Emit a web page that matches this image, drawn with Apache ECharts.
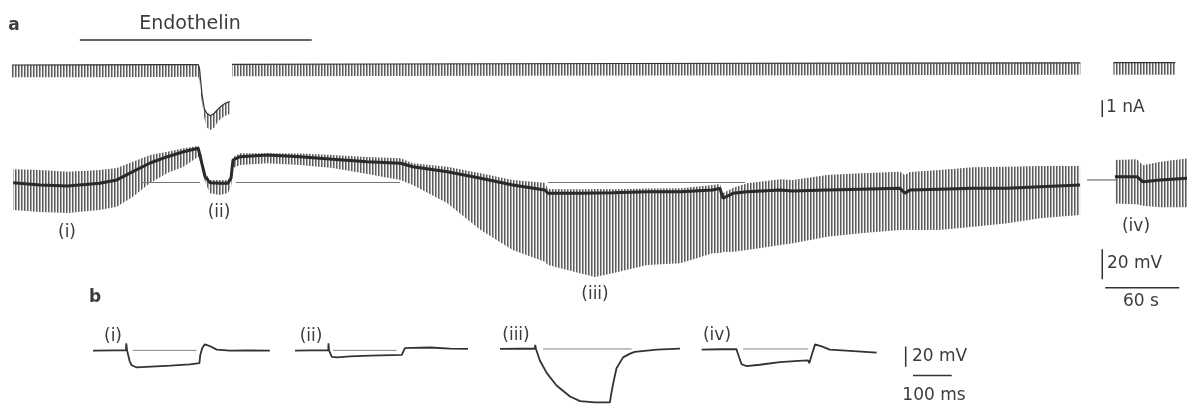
<!DOCTYPE html>
<html>
<head>
<meta charset="utf-8">
<script src="https://cdn.jsdelivr.net/npm/echarts@6/dist/echarts.min.js"></script>
<style>
  html, body { margin: 0; padding: 0; background: #fff; }
  #chart { width: 1187px; height: 409px; }
</style>
</head>
<body>
<div id="chart"></div>
<script>
// ---- panel a: injected current (nA), time in s; three pieces split by pen gaps
const curTime1 = [0, 60, 120, 151, 152, 154, 156, 158, 161, 164, 167, 170, 173, 176.5];
const curHold1 = [-0.06, -0.05, -0.04, -0.03, -0.25, -1.8, -2.7, -2.95, -3.1, -2.95, -2.7, -2.5, -2.35, -2.25];
const curPulse1 = [-0.8, -0.79, -0.78, -0.77, -1.0, -2.3, -3.25, -3.8, -3.95, -3.8, -3.45, -3.25, -3.1, -3.0];
const curTime2 = [178.4, 300, 500, 700, 866.2];
const curHold2 = [-0.02, 0, 0.03, 0.05, 0.07];
const curPulse2 = [-0.74, -0.72, -0.69, -0.67, -0.65];
const curTime3 = [893, 943.2];
const curHold3 = [0.08, 0.08];
const curPulse3 = [-0.64, -0.64];

// ---- panel a: membrane potential (mV, relative to the reference level)
const voltTime1 = [1, 23, 45, 71, 85, 98, 112, 126, 139, 151, 152.4, 156.5, 160.5, 168.7, 175.1, 177.6, 179.2,
  185, 207, 233.5, 260, 288, 315, 325, 353, 380, 406, 432, 434.6, 460.5, 472.7, 487, 515, 542, 568, 574,
  576.5, 584.6, 596, 623, 633, 661, 688, 720, 724, 728, 752, 779, 807, 833.5, 866];
const voltLevel1 = [-0.1, -1.7, -2.3, -0.5, 1.7, 7.2, 13, 17.2, 20.5, 22.8, 21.7, 3.9, -0.1, -0.5, -0.5, 3, 15,
  17.2, 18.3, 17.2, 15.5, 13.9, 12.8, 10.5, 7.2, 2.8, -1.7, -5, -7.2, -7.2, -7, -6.8, -6.1, -6.1, -5, -3.9,
  -10.5, -7.2, -6.1, -5, -5.7, -5, -4.5, -3.9, -7.2, -5, -4.5, -3.9, -3.9, -2.8, -1.7];
const voltPulseTop1 = [8.8, 8.3, 7.2, 8.3, 9.7, 13.9, 18.3, 20.5, 22.8, 24.3, 23, 7, 1.7, 1.7, 1.7, 4.5, 17,
  19.5, 19.5, 19.3, 18.3, 17, 16.1, 12.8, 10.5, 6.1, 1.7, -0.1, -4.3, -4.5, -4.3, -4.5, -4, -3.9, -1.7, -1,
  -7, -3.7, -0.5, 2.1, 1.7, 5, 6.1, 7.2, 5, 7, 8.3, 10.1, 10.5, 11, 11];
const voltPulseBottom1 = [-18.3, -19.7, -20.3, -18.3, -16.1, -9.5, -0.3, 6.3, 10.5, 17.2, 16.3, 0.3, -7.2, -8.3, -7, -3, 9.7,
  11.7, 12.8, 11.7, 9.7, 5.7, 1.7, -1.7, -13.9, -31.7, -45, -52.8, -55, -60.5, -63, -60.5, -55, -53.9, -47.2, -47,
  -46.3, -46.1, -45, -41.7, -40.5, -36.1, -33.9, -31.7, -31.7, -31.7, -31.7, -29.5, -27.2, -23.9, -21.7];
const voltTime2 = [894.3, 912, 917, 931, 953];
const voltLevel2 = [3.9, 3.9, 0.5, 1.7, 2.8];
const voltPulseTop2 = [15, 15.5, 11.5, 13.9, 16.1];
const voltPulseBottom2 = [-14, -14.5, -15.5, -16.5, -16.5];
const gapTime = [871.6, 896];
const gapLevel = [1.7, 1.7];
const refFrom = [104.6, 181.6, 434.6];
const refTo = [152.4, 314.6, 594.3];
const endothelinOn = [55, 243];

// ---- panel b: single responses (ms, mV)
const bTimeI = [0, 60, 85, 86, 88, 95, 100, 113, 150, 200, 250, 275, 277, 282, 289, 300, 320, 354, 400, 457];
const bVoltI = [-0.2, 0, 0, 6.9, 0, -11, -14.6, -16.8, -16, -15, -13.8, -12.6, -5, 2, 6, 4.5, 0.7, -0.2, 0, -0.2];
const bTimeII = [0, 40, 86, 86.5, 88, 95, 110, 142, 194, 276, 280, 284, 300, 349, 400, 447];
const bVoltII = [-0.2, 0, 0, 6.9, 0, -6.3, -6.8, -6, -5.1, -4.4, -1, 2.3, 2.5, 2.8, 1.8, 1.4];
const bTimeIII = [0, 50, 90, 91, 93, 103, 121, 146, 181, 207, 245, 284, 287, 293, 301, 318, 336, 348, 405, 465];
const bVoltIII = [0, 0.2, 0.2, 4, 0, -11.3, -23.7, -35.9, -46.7, -51.3, -52.5, -52.5, -45, -32.9, -19, -8.3, -4.6, -2.8, -0.6, 0.3];
const bTimeIV = [0, 50, 90, 92, 103, 116, 150, 202, 250, 275, 278, 285, 293, 310, 331, 383, 452];
const bVoltIV = [-0.6, -0.3, -0.3, -3, -15, -16.9, -15.5, -12.9, -11.8, -11.3, -14, -5, 4.5, 2.5, -0.6, -1.8, -3.7];
const bRefFrom = [103, 98, 111, 107];
const bRefTo = [268, 263, 340, 275];

// ---- layout (pixels)
const W = 1187;
const A_LEFT = 12, A_TOP = 0, A_HEIGHT = 320, A_PX_PER_S = 74 / 60;
const NA_ZERO_Y = 64, PX_PER_NA = 16.7;
const MV_ZERO_Y = 182.5, PX_PER_MV = 1.5;
const B_TOP = 318, B_HEIGHT = 97, B_SPAN_MS = 470, B_PX_PER_MS = 0.387, B_PX_PER_MV = 1.085;
const bLeft = [93, 295, 500, 701.7, 880];
const bZeroY = [352.5, 352.5, 351, 351, 370];

const INK = '#333';
const FONT = '"DejaVu Sans", sans-serif';

// 3px repeating column: one pen stroke per pulse
function stripes(cols) {
  const c = document.createElement('canvas');
  c.width = cols.length;
  c.height = 4;
  const ctx = c.getContext('2d');
  cols.forEach((col, i) => {
    ctx.fillStyle = col;
    ctx.fillRect(i, 0, 1, 4);
  });
  return { image: c, repeat: 'repeat' };
}
const tickFill = stripes(['#5c5c5c', '#a4a4a4', '#f6f6f6']);

const grid = [{ left: A_LEFT, top: A_TOP, width: W - A_LEFT, height: A_HEIGHT }];
const xAxis = [{ gridIndex: 0, type: 'value', show: false, min: 0, max: (W - A_LEFT) / A_PX_PER_S }];
const yAxis = [
  { gridIndex: 0, type: 'value', show: false, max: NA_ZERO_Y / PX_PER_NA, min: -(A_HEIGHT - NA_ZERO_Y) / PX_PER_NA },
  { gridIndex: 0, type: 'value', show: false, max: MV_ZERO_Y / PX_PER_MV, min: -(A_HEIGHT - MV_ZERO_Y) / PX_PER_MV },
];
bLeft.forEach((left, k) => {
  grid.push({ left, top: B_TOP, width: B_SPAN_MS * B_PX_PER_MS, height: B_HEIGHT });
  xAxis.push({ gridIndex: k + 1, type: 'value', show: false, min: 0, max: B_SPAN_MS });
  yAxis.push({
    gridIndex: k + 1, type: 'value', show: false,
    max: (bZeroY[k] - B_TOP) / B_PX_PER_MV,
    min: -(B_TOP + B_HEIGHT - bZeroY[k]) / B_PX_PER_MV,
  });
});

const series = [];
function trace(xi, yi, xs, ys, width, color) {
  series.push({
    type: 'line', xAxisIndex: xi, yAxisIndex: yi, silent: true, symbol: 'none',
    data: xs.map((x, i) => [x, ys[i]]),
    lineStyle: { width, color },
  });
}
// pulse envelope filled with vertical stripes (the individual pulses)
function band(xi, yi, xs, hi, lo) {
  series.push({
    type: 'custom', xAxisIndex: xi, yAxisIndex: yi, silent: true,
    data: xs.map((x, i) => [x, hi[i], lo[i]]),
    renderItem(params, api) {
      if (params.dataIndex !== 0) return null;
      const up = xs.map((x, i) => api.coord([x, hi[i]]));
      const dn = xs.map((x, i) => api.coord([x, lo[i]])).reverse();
      return { type: 'polygon', shape: { points: up.concat(dn) }, style: { fill: tickFill } };
    },
  });
}

// current trace
band(0, 0, curTime1, curHold1, curPulse1);
band(0, 0, curTime2, curHold2, curPulse2);
band(0, 0, curTime3, curHold3, curPulse3);
trace(0, 0, curTime1, curHold1, 1.2, INK);
trace(0, 0, curTime2, curHold2, 1.2, INK);
trace(0, 0, curTime3, curHold3, 1.2, INK);

// voltage trace
band(0, 1, voltTime1, voltPulseTop1, voltPulseBottom1);
band(0, 1, voltTime2, voltPulseTop2, voltPulseBottom2);
refFrom.forEach((t, i) => trace(0, 1, [t, refTo[i]], [0, 0], 1, '#777'));
trace(0, 1, gapTime, gapLevel, 1, '#555');
trace(0, 1, voltTime1, voltLevel1, 3, '#2a2a2a');
trace(0, 1, voltTime2, voltLevel2, 3, '#2a2a2a');

// endothelin application bar
trace(0, 1, endothelinOn, [95, 95], 1.5, INK);

// scale bars, panel a
trace(0, 0, [884, 884], [-3.17, -2.17], 1.5, INK);
trace(0, 1, [884, 884], [-64.5, -44.5], 1.5, INK);
trace(0, 1, [886.4, 946.4], [-70.1, -70.1], 1.5, INK);

// panel b
[[bTimeI, bVoltI], [bTimeII, bVoltII], [bTimeIII, bVoltIII], [bTimeIV, bVoltIV]].forEach(([t, v], k) => {
  trace(k + 1, k + 2, [bRefFrom[k], bRefTo[k]], [0, 0], 1, '#888');
  trace(k + 1, k + 2, t, v, 1.8, '#333');
});
trace(5, 6, [66.4, 66.4], [0, 20], 1.5, INK);
trace(5, 6, [85.3, 185.3], [-8.6, -8.6], 1.5, INK);

function label(text, x, y, opts) {
  return {
    type: 'text', x, y, silent: true,
    style: Object.assign({
      text, fill: '#3c3c3c', font: '17px ' + FONT, align: 'center', verticalAlign: 'middle',
    }, opts || {}),
  };
}

const graphic = [
  label('a', 14, 26, { font: 'bold 17px ' + FONT }),
  label('Endothelin', 190, 24, { font: '19px ' + FONT }),
  label('1 nA', 1106, 108, { align: 'left' }),
  label('(i)', 67, 233),
  label('(ii)', 219, 213),
  label('(iii)', 595, 295),
  label('(iv)', 1136, 227),
  label('20 mV', 1107, 264, { align: 'left' }),
  label('60 s', 1141, 302),
  label('b', 95, 298, { font: 'bold 17px ' + FONT }),
  label('(i)', 113, 337),
  label('(ii)', 311, 337),
  label('(iii)', 516, 336),
  label('(iv)', 717, 336),
  label('20 mV', 912, 357, { align: 'left' }),
  label('100 ms', 934, 396),
];

const chart = echarts.init(document.getElementById('chart'));
chart.setOption({
  animation: false,
  backgroundColor: '#fff',
  grid, xAxis, yAxis, series, graphic,
});
window.addEventListener('resize', () => { chart.resize(); });
</script>
</body>
</html>
